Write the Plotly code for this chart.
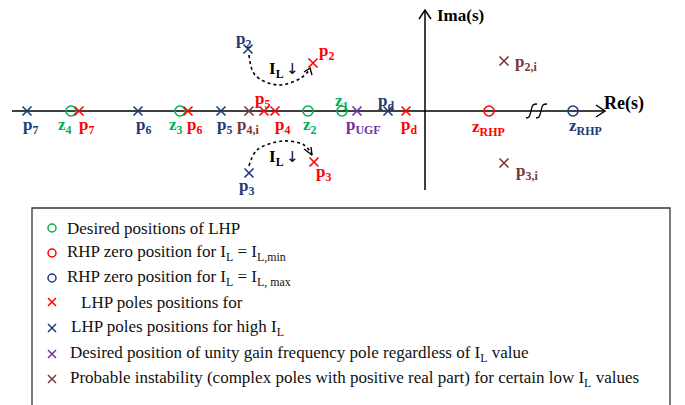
import plotly.graph_objects as go

# ---- Pole / zero positions on the s-plane (schematic units) ----
LHP_ZEROS_RE = [-354, -245, -117, -83]          # z4, z3, z2, z1 (desired)
RHP_ZERO_MIN_RE = [64]                          # z_RHP for IL = IL,min
RHP_ZERO_MAX_RE = [148]                         # z_RHP for IL = IL,max
LOW_POLES_RE = [-346, -237, -161, -150, -19, -112, -111]   # p7 p6 p5 p4 pd p2 p3 (red)
LOW_POLES_IM = [0, 0, 0, 0, 0, 48, -51]
HIGH_POLES_RE = [-398, -287, -204, -37, -177, -176]       # p7 p6 p5 pd p2 p3 (blue)
HIGH_POLES_IM = [0, 0, 0, 0, 62, -62]
UGF_POLE_RE = [-68]
UNSTABLE_RE = [-176, 79, 79]                   # p4,i  p2,i  p3,i
UNSTABLE_IM = [0, 50, -52]

# label texts with their anchor positions
LABELS = [
    ("p", "7", -395, -15, "blue"), ("z", "4", -360, -15, "green"), ("p", "7", -339, -15, "red"),
    ("p", "6", -282, -15, "blue"), ("z", "3", -249, -15, "green"), ("p", "6", -231, -15, "red"),
    ("p", "5", -201, -15, "blue"), ("p", "4,i", -177, -15, "brown"), ("p", "5", -163, 11, "red"),
    ("p", "4", -143, -15, "red"), ("z", "2", -115, -15, "green"), ("z", "1", -83, 9, "green"),
    ("p", "UGF", -62, -15, "purple"), ("p", "d", -39, 9, "blue"), ("p", "d", -16, -15, "red"),
    ("z", "RHP", 63, -17, "red"), ("z", "RHP", 160, -16, "blue"),
    ("p", "2,i", 101, 48, "brown"), ("p", "3,i", 102, -61, "brown"),
    ("p", "2", -182, 71, "blue"), ("p", "2", -99, 59, "red"),
    ("p", "3", -179, -76, "blue"), ("p", "3", -102, -62, "red"),
]

LEGEND_TEXT = [
    "Desired positions of LHP",
    "RHP zero position for I<sub>L</sub> = I<sub>L,min</sub>",
    "RHP zero position for I<sub>L</sub> = I<sub>L, max</sub>",
    "LHP poles positions for",
    "LHP poles positions for high I<sub>L</sub>",
    "Desired position of unity gain frequency pole regardless of I<sub>L</sub> value",
    "Probable instability (complex poles with positive real part) for certain low I<sub>L</sub> values",
]
LEGEND_SYMBOL = ["circle-open"] * 3 + ["x-thin"] * 4
LEGEND_KEY = ["green", "red", "blue", "red", "blue", "purple", "brown"]
LEGEND_IM = [-117, -142, -167, -191, -217, -243, -268]
LEGEND_TEXT_RE = [-360, -360, -360, -346, -356, -357, -357]

COL = {"green": "#00b050", "red": "#ff0000", "blue": "#1c3a78",
       "purple": "#7030a0", "brown": "#7a3636"}
FONT = "Liberation Serif"

fig = go.Figure()

def xs(re, im, key, symbol, size, lw=1.6):
    fig.add_trace(go.Scatter(
        x=re, y=im, mode="markers", hoverinfo="skip", showlegend=False,
        marker=dict(symbol=symbol, size=size, color=COL[key],
                    line=dict(color=COL[key], width=lw))))

def line(xv, yv, color="black", width=1.5, dash="solid", shape="linear"):
    fig.add_trace(go.Scatter(x=xv, y=yv, mode="lines", hoverinfo="skip", showlegend=False,
                             line=dict(color=color, width=width, dash=dash, shape=shape)))

# axes
line([-413, 180], [0, 0])
line([171, 180, 171], [6, 0, -6])
line([0, 0], [-79, 101])
line([-6, 0, 6], [92, 101, 92])
# axis break marks
for dx in [0, 10]:
    line([101 + dx, 104 + dx, 106 + dx, 108 + dx, 112 + dx], [-7, -6, 0, 6, 7], width=1.3, shape="spline")

# dotted IL arrows
line([-176, -170, -147, -124, -115], [56, 36, 26, 33, 42], width=1.6, dash="dot", shape="spline")
line([-121, -115, -113], [39, 43, 36], width=1.4)
line([-176, -168, -142, -121, -113], [-55, -39, -30, -34, -44], width=1.6, dash="dot", shape="spline")
line([-121, -113, -114], [-38, -44, -36], width=1.4)

# markers
xs(LHP_ZEROS_RE, [0] * len(LHP_ZEROS_RE), "green", "circle-open", 10)
xs(RHP_ZERO_MIN_RE, [0], "red", "circle-open", 10)
xs(RHP_ZERO_MAX_RE, [0], "blue", "circle-open", 10)
xs(LOW_POLES_RE, LOW_POLES_IM, "red", "x-thin", 9)
xs(HIGH_POLES_RE, HIGH_POLES_IM, "blue", "x-thin", 9)
xs(UGF_POLE_RE, [0], "purple", "x-thin", 9)
xs(UNSTABLE_RE, UNSTABLE_IM, "brown", "x-thin", 9)

ann = []
for base, sub, x, y, key in LABELS:
    ann.append(dict(x=x, y=y, text=f"<b>{base}<sub>{sub}</sub></b>", showarrow=False,
                    font=dict(family=FONT, size=17, color=COL[key])))
ann.append(dict(x=199, y=8, text="<b>Re(s)</b>", showarrow=False, font=dict(family=FONT, size=18, color="black")))
ann.append(dict(x=35, y=96, text="<b>Ima(s)</b>", showarrow=False, font=dict(family=FONT, size=17, color="black")))
for y in [41, -47]:
    ann.append(dict(x=-149, y=y, text="<b>I<sub>L</sub></b>",
                    showarrow=False, font=dict(family=FONT, size=17, color="black")))
    ann.append(dict(x=-133, y=y + 1, text="↓",
                    showarrow=False, font=dict(family="DejaVu Sans", size=15, color="black")))

# legend box and entries
shapes = [dict(type="rect", xref="x", yref="y", x0=-393, x1=245, y0=-97, y1=-310,
               line=dict(color="#333", width=1.3))]
for i, t in enumerate(LEGEND_TEXT):
    xs([-373], [LEGEND_IM[i]], LEGEND_KEY[i], LEGEND_SYMBOL[i], 8, 1.5)
    ann.append(dict(x=LEGEND_TEXT_RE[i], y=LEGEND_IM[i], text=t, showarrow=False, xanchor="left",
                    font=dict(family=FONT, size=17, color="#111")))

fig.update_layout(
    width=685, height=405, margin=dict(l=0, r=0, t=0, b=0),
    paper_bgcolor="white", plot_bgcolor="white",
    xaxis=dict(range=[-425, 260], visible=False, fixedrange=True),
    yaxis=dict(range=[-294, 111], visible=False, fixedrange=True),
    annotations=ann, shapes=shapes,
)
fig.write_html("out.html")
